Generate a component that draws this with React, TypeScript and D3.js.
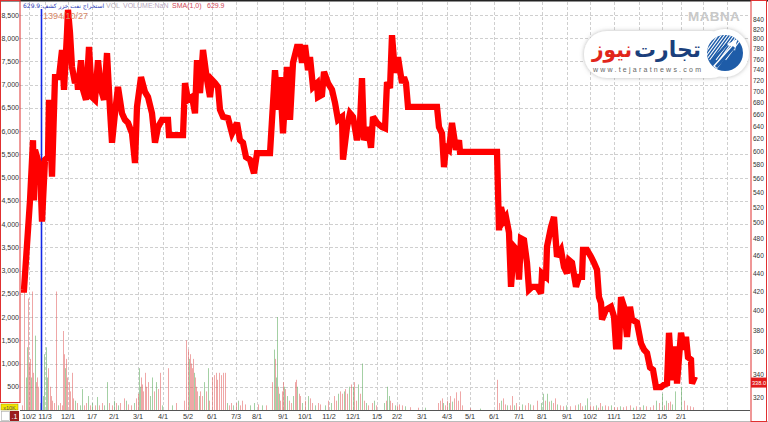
import React from "react";
import * as d3 from "d3";

// ---- data ----
// price series: [bar index, price]
const priceSeries: [number, number][] = [
  [1,422],[4,422],[10,530],[13,618],[14,530],[15,603],[20,577],[22,502],[25,588],[28,592],[29,685],[32,563],[35,726],[39,726],[42,778],[44,703],[47,813],[48,862],[50,813],[52,745],[55,715],[57,726],[58,703],[61,758],[63,703],[66,685],[69,784],[72,690],[75,685],[78,758],[81,703],[84,685],[87,772],[90,668],[92,614],[95,662],[98,708],[102,662],[105,651],[108,646],[112,629],[115,583],[117,673],[121,726],[125,699],[128,690],[132,662],[135,614],[138,639],[142,651],[148,651],[149,626],[163,626],[165,715],[168,685],[172,690],[175,662],[177,758],[180,697],[183,778],[187,721],[190,690],[192,721],[195,715],[198,708],[200,668],[203,656],[208,654],[212,629],[217,646],[220,618],[223,614],[226,592],[230,588],[234,568],[237,598],[250,598],[255,739],[258,668],[260,726],[263,629],[267,745],[270,651],[273,753],[277,784],[280,784],[282,753],[285,788],[288,739],[290,764],[293,708],[297,715],[298,690],[302,694],[304,736],[308,715],[312,703],[315,680],[318,651],[322,656],[323,588],[327,639],[330,662],[333,656],[337,618],[340,646],[342,724],[344,618],[348,639],[351,606],[353,656],[357,646],[362,639],[365,637],[367,717],[370,706],[372,808],[375,734],[378,764],[382,715],[384,726],[386,715],[388,673],[417,673],[419,639],[422,629],[424,577],[426,607],[429,603],[432,646],[436,603],[439,618],[440,600],[477,600],[479,491],[481,521],[484,504],[486,508],[489,488],[491,425],[494,471],[497,467],[499,433],[501,481],[504,479],[507,452],[509,422],[512,425],[517,425],[521,418],[522,440],[526,436],[527,471],[531,495],[534,508],[537,459],[541,467],[544,447],[547,440],[549,455],[552,452],[556,425],[559,436],[562,436],[563,467],[567,467],[571,459],[574,452],[577,444],[579,414],[581,408],[582,391],[586,401],[591,404],[594,394],[596,365],[599,365],[601,414],[604,404],[607,374],[610,404],[612,391],[617,388],[621,368],[624,362],[627,359],[630,346],[633,344],[636,329],[641,329],[644,331],[647,332],[649,378],[652,335],[656,365],[657,332],[661,378],[664,362],[666,374],[668,355],[671,353],[672,332],[675,338]
];

// volume bars (x10K): [bar index, volume, 1 = up / 0 = down]
const volumeBars: [number, number, number][] = [
  [2,100,0],[4,2550,0],[6,700,1],[7,1350,1],[8,2400,0],[9,1000,0],[10,1100,0],[11,700,1],[12,2550,0],[13,800,0],[15,1600,1],[16,600,0],[17,700,0],[18,500,0],[20,150,1],[23,300,1],[24,1200,1],[26,1350,1],[27,700,1],[28,900,0],[30,500,0],[31,300,0],[32,200,0],[34,150,0],[36,2550,0],[38,100,1],[40,150,0],[42,100,0],[43,1700,0],[44,1200,0],[45,900,1],[46,1100,0],[47,700,0],[49,600,0],[50,400,0],[52,800,0],[53,250,0],[55,200,1],[57,150,0],[60,100,1],[62,450,1],[64,100,0],[66,150,0],[68,300,1],[70,100,0],[72,150,1],[75,100,0],[77,280,1],[79,100,0],[82,150,0],[84,100,1],[87,600,1],[89,150,0],[92,100,0],[94,200,1],[96,150,0],[98,100,1],[100,150,0],[104,250,0],[106,200,1],[108,120,0],[111,100,0],[114,150,1],[116,250,0],[118,350,0],[119,900,1],[120,500,1],[121,700,0],[122,550,0],[123,400,0],[125,800,0],[126,500,0],[128,600,0],[130,300,1],[132,700,1],[134,400,0],[136,600,1],[138,450,0],[140,800,0],[142,100,1],[148,900,0],[152,100,1],[156,150,0],[164,200,0],[166,1500,0],[168,1300,0],[169,1100,1],[170,1200,0],[171,1000,0],[172,900,0],[173,1100,0],[174,800,1],[175,700,0],[176,500,0],[177,400,0],[179,300,1],[180,400,0],[182,300,0],[184,600,1],[186,400,0],[188,900,1],[189,200,0],[192,700,0],[194,750,0],[196,800,0],[197,650,0],[199,800,0],[201,750,0],[203,800,0],[205,800,0],[207,150,1],[209,100,0],[211,150,0],[213,100,1],[216,150,0],[218,200,1],[220,100,0],[222,200,0],[225,120,0],[230,100,1],[234,150,1],[238,120,0],[242,100,1],[246,100,0],[252,600,0],[254,1300,1],[255,1100,0],[256,700,1],[257,2000,1],[258,500,0],[259,350,1],[260,200,0],[262,400,0],[263,600,0],[264,500,1],[265,450,0],[267,300,1],[269,200,0],[271,150,0],[273,300,1],[275,600,0],[276,650,0],[277,500,1],[279,350,0],[280,300,0],[282,150,1],[285,200,0],[288,300,1],[290,250,0],[292,150,0],[295,100,1],[298,150,0],[300,120,0],[305,100,1],[308,200,0],[311,150,1],[314,300,0],[316,200,0],[318,350,1],[320,400,0],[322,350,0],[324,400,1],[325,450,0],[327,350,0],[329,500,1],[331,550,0],[333,500,1],[334,600,0],[336,200,0],[338,550,1],[340,350,0],[342,1000,1],[344,200,0],[346,150,1],[348,100,0],[352,150,0],[354,200,1],[356,100,0],[364,150,1],[366,200,0],[367,500,1],[369,300,1],[370,200,0],[372,150,0],[375,100,1],[377,100,0],[379,120,0],[382,100,0],[385,80,1],[390,60,0],[398,50,0],[405,50,1],[418,150,0],[420,200,0],[422,250,0],[423,150,1],[425,100,0],[427,200,0],[429,150,1],[430,300,0],[432,180,1],[434,250,0],[436,380,0],[438,200,0],[440,400,0],[442,100,0],[450,40,0],[460,30,1],[477,650,0],[479,150,0],[481,200,1],[483,250,0],[485,120,0],[487,100,1],[490,100,0],[492,300,0],[494,100,1],[496,150,0],[499,80,0],[502,120,1],[505,100,0],[508,150,0],[510,120,1],[513,100,0],[517,200,0],[521,150,1],[523,350,1],[525,200,0],[527,350,1],[529,180,0],[531,200,1],[533,150,0],[535,250,0],[537,120,1],[540,100,0],[543,80,0],[546,100,1],[550,80,0],[555,100,0],[558,120,1],[560,150,0],[562,80,0],[565,100,1],[567,250,1],[570,100,0],[573,80,0],[576,100,1],[578,50,0],[580,150,0],[582,80,1],[585,100,0],[588,80,0],[591,100,1],[594,60,0],[597,60,0],[600,80,1],[603,60,0],[606,80,0],[610,100,0],[613,50,1],[616,80,0],[620,60,0],[623,100,1],[626,80,0],[630,60,0],[633,100,0],[636,200,1],[639,150,0],[642,350,1],[644,100,0],[646,200,1],[648,150,0],[650,180,0],[652,120,1],[655,400,1],[661,500,1],[664,200,0],[667,100,0],[670,80,0],[673,60,0]
];

const xTickIdx = [9, 25, 48, 72, 94, 118, 143, 168, 192, 216, 237, 263, 285, 309, 333, 357, 377, 402, 427, 450, 474, 499, 522, 547, 570, 594, 619, 642, 661, 683, 707];
const xTickLabels = ["10/2", "11/3", "12/1", "1/7", "2/1", "3/1", "4/1", "5/2", "6/1", "7/3", "8/1", "9/1", "10/1", "11/2", "12/1", "1/5", "2/2", "3/1", "4/3", "5/1", "6/1", "7/1", "8/1", "9/1", "10/2", "11/1", "12/2", "1/5", "2/1", "", ""];
const volTicks = d3.range(500, 8501, 500);
const priceTicks = d3.range(320, 841, 20);
const cursorIdx = 21;
const cursorDate = "1394/10/27";
const lastPrice = 338.0;
const legendName = "629.9:استخراج نفت خزر کشف";

const W = 768, H = 422;

export default function App() {
  const x = d3.scaleLinear().domain([0, 730]).range([20, 750]);
  const yP = d3.scaleLog().domain([320, 840]).range([398, 20]);
  const yV = d3.scaleLinear().domain([0, 8500]).range([410, 15]);
  const line = d3.line<[number, number]>().x(d => x(d[0])).y(d => yP(d[1]));
  const fmt = d3.format(",");

  const plotL = 20, plotR = 750, plotT = 2, plotB = 410;

  return (
    <svg width={W} height={H} style={{ position: "absolute", left: 0, top: 0, background: "#fff" }}
      fontFamily="'Liberation Sans', Arial, sans-serif">
      <defs>
        <clipPath id="plot"><rect x={plotL} y={plotT} width={plotR - plotL} height={plotB - plotT} /></clipPath>
        <clipPath id="circ"><circle cx={725} cy={53} r={18} /></clipPath>
        <filter id="sh" x="-10%" y="-30%" width="120%" height="160%">
          <feDropShadow dx="0" dy="0" stdDeviation="2" floodColor="#888" floodOpacity="0.6" />
        </filter>
      </defs>
      <rect x={0} y={0} width={W} height={H} fill="#fff" />

      {/* grid */}
      <g stroke="#cfcfcf" strokeWidth={1} strokeDasharray="3,2">
        {volTicks.map(v => (
          <line key={"h" + v} x1={plotL} x2={plotR} y1={Math.round(yV(v)) + 0.5} y2={Math.round(yV(v)) + 0.5} />
        ))}
        {xTickIdx.map((t, i) => (
          <line key={"v" + i} x1={Math.round(x(t)) + 0.5} x2={Math.round(x(t)) + 0.5} y1={plotT} y2={plotB} />
        ))}
      </g>

      {/* volume */}
      <g>
        {volumeBars.map((b, i) => (
          <line key={i} x1={x(b[0]) + 0.5} x2={x(b[0]) + 0.5} y1={yV(0)} y2={yV(b[1])}
            stroke={b[2] ? "rgba(90,170,90,0.55)" : "rgba(225,95,95,0.55)"} strokeWidth={1} />
        ))}
      </g>

      {/* cursor */}
      <line x1={x(cursorIdx) + 0.5} x2={x(cursorIdx) + 0.5} y1={9} y2={plotB} stroke="#1428e6" strokeWidth={1.6} />

      {/* price */}
      <g clipPath="url(#plot)">
        <path d={line(priceSeries) || ""} fill="none" stroke="#ff0000" strokeWidth={6.3} strokeLinejoin="miter" strokeMiterlimit={3} />
      </g>

      {/* legend */}
      <text x={23} y={8} fontSize={6} fill="#2a3ab8" fontFamily="'DejaVu Sans', sans-serif">{legendName}</text>
      <text x={106} y={8} fontSize={7} fill="#b8b0b8">VOL</text>
      <text x={123} y={8} fontSize={7} fill="#b8a8c0">VOLUME:NaN</text>
      <text x={172} y={8} fontSize={7} fill="#d04858">SMA(1,0)</text>
      <text x={207} y={8} fontSize={7} fill="#d04858">629.9</text>
      <text x={43} y={19} fontSize={9} fill="#d98a6a">{cursorDate}</text>

      {/* MABNA + logo */}
      <text x={688} y={21} fontSize={13.5} fontWeight="bold" fill="#c9c9c9" letterSpacing={0.4}>MABNA</text>
      <g filter="url(#sh)">
        <rect x={584} y={31} width={150} height={47} rx={23} fill="#fff" />
        <circle cx={725} cy={53} r={24} fill="#fff" />
      </g>
      <circle cx={725} cy={53} r={18} fill="#1e5ca8" />
      <g clipPath="url(#circ)" stroke="#fff" strokeWidth={1.1}>
        {d3.range(0, 9).map(i => (
          <line key={i} x1={700 + i * 3.2} y1={60} x2={722 + i * 3.2} y2={30} />
        ))}
      </g>
      <path d="M713,66 L731,46 L726,45 L737,39 L735,51 L733,47 L717,69 Z" fill="#fff" />
      <path d="M716,67 L734,47" stroke="#1e5ca8" strokeWidth={3} />
      <path d="M711,62 L727,44" stroke="#1e5ca8" strokeWidth={2.5} />
      <text x={632} y={57} fontSize={22} fontWeight="bold" fill="#e1251b" textAnchor="end"
        fontFamily="'DejaVu Sans', sans-serif" textLength={40} lengthAdjust="spacingAndGlyphs">نیوز</text>
      <text x={701} y={57} fontSize={22} fontWeight="bold" fill="#1b3f7c" textAnchor="end"
        fontFamily="'DejaVu Sans', sans-serif" textLength={67} lengthAdjust="spacingAndGlyphs">تجارت</text>
      <text x={593} y={72} fontSize={7} fill="#666" textLength={108} lengthAdjust="spacing">www.tejaratnews.com</text>

      {/* top border */}
      <rect x={0} y={0} width={W} height={1.5} fill="#222" />

      {/* x axis */}
      <line x1={plotL} x2={plotR} y1={plotB + 0.5} y2={plotB + 0.5} stroke="#555" strokeWidth={1.2} />
      <line x1={0} x2={W} y1={421.5} y2={421.5} stroke="#bbb" />
      <g fontSize={7.3} fill="#333" textAnchor="middle">
        {xTickIdx.map((t, i) => xTickLabels[i] ? (
          <text key={i} x={x(t)} y={419}>{xTickLabels[i]}</text>
        ) : null)}
      </g>

      {/* left axis */}
      <rect x={0.5} y={0.5} width={19.5} height={402} fill="none" stroke="#e03030" strokeWidth={1} />
      <g fontSize={7} fill="#333" textAnchor="end">
        {volTicks.map(v => (
          <text key={v} x={19} y={yV(v) + 2.5}>{fmt(v)}</text>
        ))}
      </g>
      <rect x={1} y={404} width={17} height={6} fill="#f2e600" stroke="#a09000" strokeWidth={0.5} />
      <text x={9.5} y={409.5} fontSize={5.5} fill="#555" textAnchor="middle">x10K</text>
      <rect x={1.5} y={411.5} width={8} height={9} fill="#fff" stroke="#aaa" strokeWidth={0.6} />
      <rect x={10} y={411} width={9} height={10} fill="#9a1c1c" />
      <text x={14.5} y={419} fontSize={7} fill="#fff" textAnchor="middle">.1</text>

      {/* right axis */}
      <rect x={751} y={0.5} width={15.5} height={421} fill="#fff" stroke="#e03030" strokeWidth={1} />
      <g fontSize={6.5} fill="#333">
        {priceTicks.map(v => (
          <text key={v} x={753} y={yP(v) + 2.3}>{v}</text>
        ))}
      </g>
      <rect x={751} y={yP(lastPrice) + 1} width={16} height={10} fill="#e21c1c" />
      <text x={752} y={yP(lastPrice) + 8.5} fontSize={5.6} fill="#fff">{lastPrice.toFixed(1)}</text>
    </svg>
  );
}
